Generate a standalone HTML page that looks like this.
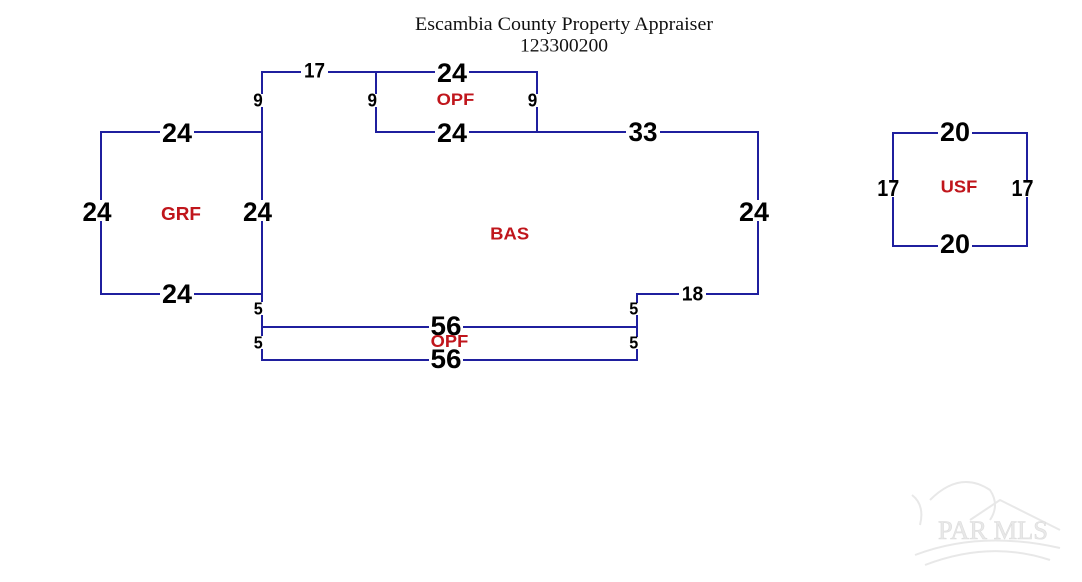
<!DOCTYPE html>
<html>
<head>
<meta charset="utf-8">
<style>
html,body{margin:0;padding:0;background:#fff;}
svg{display:block;}
.t{font-family:"Liberation Serif",serif;fill:#111;}
.n{font-family:"Liberation Sans",Arial,sans-serif;font-weight:bold;fill:#000;text-anchor:middle;}
.r{font-family:"Liberation Sans",Arial,sans-serif;font-weight:bold;fill:#c0161c;text-anchor:middle;}
</style>
</head>
<body>
<svg width="1082" height="582" viewBox="0 0 1082 582" xmlns="http://www.w3.org/2000/svg">
<rect width="1082" height="582" fill="#fff"/>

<!-- watermark -->
<g fill="none" stroke="#e6e6e6" stroke-width="2" opacity="0.9">
  <path d="M930 500 Q960 470 990 490 Q1000 505 990 520"/>
  <path d="M970 520 L1000 500 L1060 530"/>
  <path d="M915 555 Q980 530 1060 548"/>
  <path d="M925 565 Q990 540 1050 560"/>
  <path d="M912 495 Q925 505 920 525"/>
</g>
<text x="993" y="539" font-family="Liberation Serif,serif" font-size="26" fill="#e8e8e8" text-anchor="middle" textLength="110" lengthAdjust="spacingAndGlyphs" stroke="#dcdcdc" stroke-width="0.6">PAR MLS</text>

<!-- title -->
<text class="t" x="415" y="30" font-size="18.6" textLength="298" lengthAdjust="spacingAndGlyphs">Escambia County Property Appraiser</text>
<text class="t" x="520" y="51.5" font-size="18.6" textLength="88" lengthAdjust="spacingAndGlyphs">123300200</text>

<!-- lines -->
<g stroke="#1f1f9e" stroke-width="2" fill="none" stroke-linecap="square">
  <!-- main BAS -->
  <polyline points="262,360 262,72 537,72 537,132 758,132 758,294 637,294 637,360 262,360"/>
  <!-- top OPF inner -->
  <polyline points="376,72 376,132 537,132"/>
  <!-- bottom OPF middle -->
  <line x1="262" y1="327" x2="637" y2="327"/>
  <!-- GRF -->
  <polyline points="262,132 101,132 101,294 262,294"/>
  <!-- USF -->
  <rect x="893" y="133" width="134" height="113"/>
</g>

<!-- white backgrounds behind labels on lines -->
<g fill="#fff">
  <rect x="435" y="62" width="34" height="20"/>
  <rect x="435" y="122" width="34" height="20"/>
  <rect x="626" y="122" width="34" height="20"/>
  <rect x="160" y="122" width="34" height="20"/>
  <rect x="160" y="284" width="34" height="20"/>
  <rect x="301" y="64" width="27" height="16"/>
  <rect x="679" y="287" width="27" height="14"/>
  <rect x="80" y="200" width="34" height="21"/>
  <rect x="241" y="200" width="34" height="21"/>
  <rect x="737" y="200" width="34" height="21"/>
  <rect x="252" y="94" width="12" height="13"/>
  <rect x="366" y="94" width="12" height="13"/>
  <rect x="526" y="94" width="12" height="13"/>
  <rect x="253" y="302" width="11" height="13"/>
  <rect x="253" y="336" width="11" height="13"/>
  <rect x="628" y="303" width="11" height="12"/>
  <rect x="628" y="337" width="11" height="12"/>
  <rect x="429" y="316" width="34" height="19"/>
  <rect x="429" y="350" width="34" height="19"/>
  <rect x="938" y="122" width="34" height="20"/>
  <rect x="938" y="235" width="34" height="20"/>
  <rect x="876" y="180" width="25" height="17"/>
  <rect x="1010" y="180" width="25" height="17"/>
</g>

<!-- numbers -->
<g>
  <text class="n" x="452" y="82" font-size="27" textLength="30" lengthAdjust="spacingAndGlyphs">24</text>
  <text class="n" x="452" y="142" font-size="27" textLength="30" lengthAdjust="spacingAndGlyphs">24</text>
  <text class="n" x="643" y="141" font-size="27" textLength="29" lengthAdjust="spacingAndGlyphs">33</text>
  <text class="n" x="177" y="142" font-size="27" textLength="30" lengthAdjust="spacingAndGlyphs">24</text>
  <text class="n" x="177" y="303" font-size="27" textLength="30" lengthAdjust="spacingAndGlyphs">24</text>
  <text class="n" x="97" y="221" font-size="27" textLength="29" lengthAdjust="spacingAndGlyphs">24</text>
  <text class="n" x="257.5" y="221" font-size="27" textLength="29" lengthAdjust="spacingAndGlyphs">24</text>
  <text class="n" x="754" y="221" font-size="27" textLength="30" lengthAdjust="spacingAndGlyphs">24</text>
  <text class="n" x="314.5" y="77.5" font-size="21.5" textLength="21" lengthAdjust="spacingAndGlyphs">17</text>
  <text class="n" x="692.5" y="300.7" font-size="20" textLength="21.5" lengthAdjust="spacingAndGlyphs">18</text>
  <text class="n" x="258" y="106.7" font-size="18.5" textLength="9.5" lengthAdjust="spacingAndGlyphs">9</text>
  <text class="n" x="372.3" y="106.7" font-size="18.5" textLength="9.5" lengthAdjust="spacingAndGlyphs">9</text>
  <text class="n" x="532.5" y="106.7" font-size="18.5" textLength="9.5" lengthAdjust="spacingAndGlyphs">9</text>
  <text class="n" x="258.3" y="314.3" font-size="17.5" textLength="9" lengthAdjust="spacingAndGlyphs">5</text>
  <text class="n" x="258.3" y="348.3" font-size="17.5" textLength="9" lengthAdjust="spacingAndGlyphs">5</text>
  <text class="n" x="633.8" y="314.3" font-size="17.5" textLength="9" lengthAdjust="spacingAndGlyphs">5</text>
  <text class="n" x="633.8" y="348.3" font-size="17.5" textLength="9" lengthAdjust="spacingAndGlyphs">5</text>
  <text class="n" x="446" y="335" font-size="27" textLength="31" lengthAdjust="spacingAndGlyphs">56</text>
  <text class="n" x="446" y="368" font-size="27" textLength="31" lengthAdjust="spacingAndGlyphs">56</text>
  <text class="n" x="955" y="141" font-size="27" textLength="30" lengthAdjust="spacingAndGlyphs">20</text>
  <text class="n" x="955" y="253" font-size="27" textLength="30" lengthAdjust="spacingAndGlyphs">20</text>
  <text class="n" x="888.3" y="196" font-size="23" textLength="22" lengthAdjust="spacingAndGlyphs">17</text>
  <text class="n" x="1022.5" y="196" font-size="23" textLength="22" lengthAdjust="spacingAndGlyphs">17</text>
</g>

<!-- area labels -->
<g>
  <text class="r" x="455.5" y="105" font-size="17" textLength="37.6" lengthAdjust="spacingAndGlyphs">OPF</text>
  <text class="r" x="181" y="220" font-size="18" textLength="40" lengthAdjust="spacingAndGlyphs">GRF</text>
  <text class="r" x="509.7" y="239.3" font-size="17.5" textLength="39" lengthAdjust="spacingAndGlyphs">BAS</text>
  <text class="r" x="449.5" y="347" font-size="17.5" textLength="37.6" lengthAdjust="spacingAndGlyphs">OPF</text>
  <text class="r" x="959" y="192.7" font-size="17.5" textLength="36.6" lengthAdjust="spacingAndGlyphs">USF</text>
</g>
</svg>
</body>
</html>
